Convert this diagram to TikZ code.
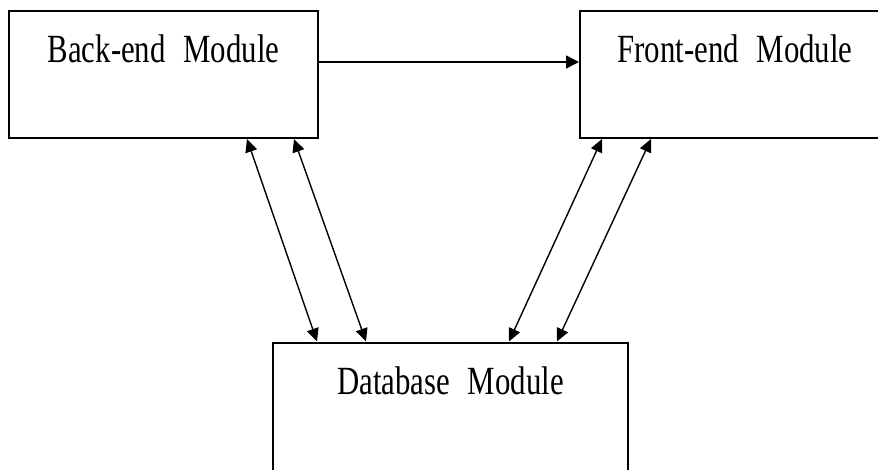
\documentclass[tikz,border=0pt]{standalone}
\usepackage{fontspec}
\newfontfamily\modfont[FakeStretch=0.77,WordSpace=2.3]{Liberation Serif}
\usetikzlibrary{arrows.meta}

\begin{document}
\begin{tikzpicture}[x=1pt, y=-1pt,
    module/.style={draw, line width=2pt, inner sep=0pt, minimum width=310pt,
      text height=52pt, text depth=75pt, font=\modfont\fontsize{40}{40}\selectfont},
    link/.style={line width=1.6pt, -{Triangle[length=13pt,width=13pt]}},
    dbl/.style={line width=1.4pt, {Triangle[length=13pt,width=12pt]}-{Triangle[length=13pt,width=12pt]}}]
      \useasboundingbox (0,0) rectangle (878,470);
      \clip (0,0) rectangle (878,470);
      % Back-end box
      \node[module, minimum width=309pt] (backend) at (163.5,74.5) {Back-end Module};
      % Front-end box, cut at the right
      \node[module] (frontend) at (735,74.5) {Front-end Module};
      % Database box, cut at the bottom
      \node[module, minimum width=355pt, text depth=80pt] (database) at (450.5,408.5) {Database Module};
      % back-end to front-end
      \draw[link] ([yshift=12.5pt]backend.east) -- ([yshift=12.5pt]frontend.west);
      % back-end and database
      \draw[dbl] ([xshift=239pt]backend.south west) -- ([xshift=45pt]database.north west);
      \draw[dbl] ([xshift=286pt]backend.south west) -- ([xshift=94pt]database.north west);
      % front-end and database
      \draw[dbl] ([xshift=23pt]frontend.south west) -- ([xshift=237pt]database.north west);
      \draw[dbl] ([xshift=72pt]frontend.south west) -- ([xshift=285pt]database.north west);
    \end{tikzpicture}
\end{document}
